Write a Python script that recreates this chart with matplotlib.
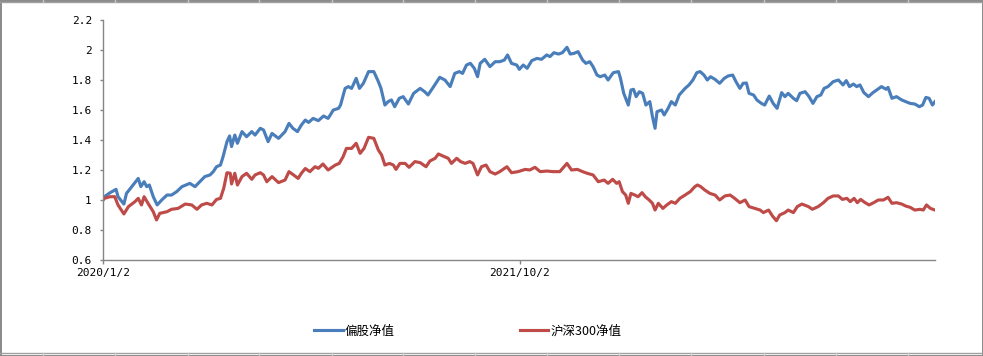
import numpy as np
import pandas as pd
import matplotlib
matplotlib.use('Agg')
import matplotlib.pyplot as plt
import matplotlib.dates as mdates
from matplotlib.lines import Line2D

plt.rcParams['font.family'] = ['Noto Sans CJK SC', 'DejaVu Sans']

# ---------------- data ----------------
START = pd.Timestamp('2020-01-02')
END = pd.Timestamp('2023-06-30')
TICK_DATES = ['2020-01-02', '2021-10-02']

SERIES_NAMES = ['偏股净值', '沪深300净值']

# days since 2020/1/2
fund_days = [0, 2, 11, 20, 23, 32, 36, 46, 54, 58, 63, 67, 71, 77, 83, 90, 98, 105, 113, 121,
             133, 141, 149, 156, 164, 169, 174, 180, 184, 190, 194, 197, 202, 206, 213, 220,
             228, 233, 241, 246, 253, 259, 269, 279, 285, 291, 298, 304, 310, 315, 322, 330,
             338, 345, 353, 361, 364, 371, 376, 381, 388, 393, 399, 407, 415, 422, 426, 432,
             437, 442, 447, 454, 460, 468, 476, 486, 493, 498, 506, 516, 524, 532, 539, 546,
             551, 557, 563, 569, 574, 578, 585, 593, 601, 608, 615, 620, 626, 634, 638, 644,
             650, 657, 665, 672, 680, 685, 691, 698, 704, 711, 716, 722, 728, 735, 740, 746,
             751, 757, 762, 769, 774, 782, 790, 793, 798, 805, 809, 813, 817, 822, 827, 832,
             838, 842, 846, 849, 856, 860, 866, 871, 877, 883, 892, 898, 904, 910, 915, 921,
             926, 931, 938, 945, 952, 958, 965, 970, 976, 981, 986, 990, 997, 1002, 1009, 1014,
             1021, 1027, 1033, 1040, 1045, 1050, 1058, 1063, 1068, 1076, 1082, 1088, 1094, 1100,
             1105, 1111, 1119, 1127, 1134, 1139, 1144, 1150, 1155, 1160, 1166, 1173, 1180, 1187,
             1193, 1200, 1203, 1209, 1216, 1224, 1230, 1237, 1244, 1251, 1256, 1261, 1266, 1271,
             1275]
fund_nav = [1.0, 1.022, 1.049, 1.071, 1.022, 0.973, 1.044, 1.1, 1.144, 1.089, 1.122, 1.089, 1.1,
            1.022, 0.967, 1.0, 1.033, 1.033, 1.056, 1.089, 1.111, 1.089, 1.125, 1.156, 1.167,
            1.189, 1.222, 1.233, 1.289, 1.389, 1.427, 1.356, 1.433, 1.378, 1.456, 1.422, 1.456,
            1.433, 1.478, 1.467, 1.389, 1.444, 1.411, 1.456, 1.511, 1.478, 1.456, 1.5, 1.533,
            1.517, 1.544, 1.529, 1.56, 1.544, 1.6, 1.611, 1.633, 1.744, 1.756, 1.744, 1.811,
            1.744, 1.778, 1.856, 1.856, 1.789, 1.744, 1.633, 1.656, 1.667, 1.622, 1.678, 1.689,
            1.64, 1.711, 1.744, 1.722, 1.7, 1.751, 1.818, 1.8, 1.756, 1.844, 1.856, 1.844, 1.9,
            1.911, 1.878, 1.822, 1.911, 1.938, 1.889, 1.922, 1.922, 1.933, 1.967, 1.911, 1.9,
            1.871, 1.9, 1.878, 1.929, 1.944, 1.938, 1.967, 1.956, 1.982, 1.973, 1.982, 2.018,
            1.973, 1.978, 1.989, 1.933, 1.911, 1.922, 1.889, 1.833, 1.822, 1.833, 1.8, 1.849,
            1.856, 1.811, 1.711, 1.633, 1.733, 1.738, 1.689, 1.722, 1.711, 1.633, 1.656, 1.556,
            1.478, 1.589, 1.6, 1.567, 1.611, 1.656, 1.633, 1.7, 1.744, 1.767, 1.8, 1.849, 1.856,
            1.833, 1.8, 1.822, 1.804, 1.778, 1.811, 1.827, 1.833, 1.789, 1.744, 1.778, 1.78,
            1.711, 1.7, 1.667, 1.644, 1.633, 1.693, 1.644, 1.611, 1.716, 1.689, 1.711, 1.678,
            1.662, 1.711, 1.722, 1.689, 1.644, 1.689, 1.7, 1.744, 1.756, 1.789, 1.8, 1.767,
            1.796, 1.756, 1.773, 1.756, 1.767, 1.716, 1.689, 1.716, 1.738, 1.756, 1.738, 1.751,
            1.678, 1.689, 1.667, 1.656, 1.644, 1.64, 1.622, 1.633, 1.684, 1.678, 1.633, 1.656]

hs300_days = [0, 2, 11, 18, 23, 32, 39, 49, 54, 59, 63, 69, 77, 82, 87, 98, 105, 115, 126, 136,
              144, 151, 159, 167, 174, 180, 185, 190, 195, 197, 202, 206, 213, 220, 228, 233,
              241, 246, 251, 259, 269, 279, 285, 292, 299, 304, 310, 317, 325, 330, 337, 345,
              356, 362, 368, 373, 381, 388, 394, 400, 407, 415, 422, 427, 432, 439, 445, 449,
              455, 463, 469, 478, 486, 495, 501, 509, 514, 521, 529, 534, 542, 548, 555, 562,
              567, 574, 580, 587, 593, 601, 608, 619, 626, 636, 647, 654, 662, 670, 680, 690,
              700, 711, 718, 727, 735, 742, 751, 759, 768, 774, 781, 787, 791, 796, 801, 805,
              809, 815, 820, 826, 831, 837, 842, 846, 851, 858, 864, 871, 877, 884, 892, 900,
              907, 911, 916, 922, 930, 938, 945, 953, 961, 968, 976, 984, 990, 999, 1007, 1012,
              1020, 1026, 1032, 1037, 1045, 1050, 1058, 1064, 1071, 1081, 1087, 1096, 1104, 1111,
              1119, 1127, 1133, 1140, 1145, 1151, 1156, 1161, 1168, 1174, 1181, 1188, 1196, 1203,
              1209, 1216, 1224, 1230, 1237, 1244, 1252, 1257, 1262, 1268, 1275]
hs300_nav = [1.0, 1.011, 1.022, 1.022, 0.967, 0.907, 0.956, 0.989, 1.011, 0.967, 1.022, 0.978,
             0.922, 0.867, 0.911, 0.922, 0.938, 0.944, 0.973, 0.967, 0.938, 0.967, 0.978, 0.967,
             1.004, 1.011, 1.078, 1.182, 1.178, 1.107, 1.178, 1.1, 1.156, 1.178, 1.138, 1.167,
             1.182, 1.167, 1.122, 1.156, 1.116, 1.133, 1.189, 1.167, 1.144, 1.178, 1.21, 1.189,
             1.222, 1.211, 1.24, 1.2, 1.233, 1.244, 1.289, 1.344, 1.344, 1.378, 1.311, 1.344,
             1.418, 1.411, 1.333, 1.3, 1.233, 1.244, 1.233, 1.204, 1.244, 1.244, 1.218, 1.256,
             1.249, 1.222, 1.26, 1.278, 1.307, 1.293, 1.278, 1.244, 1.278, 1.256, 1.244, 1.256,
             1.244, 1.167, 1.222, 1.233, 1.189, 1.173, 1.189, 1.222, 1.182, 1.189, 1.204, 1.2,
             1.218, 1.189, 1.193, 1.189, 1.189, 1.244, 1.2, 1.204, 1.189, 1.178, 1.167, 1.122,
             1.133, 1.111, 1.138, 1.111, 1.122, 1.056, 1.033, 0.978, 1.044, 1.033, 1.022, 1.049,
             1.022, 1.0, 0.978, 0.933, 0.978, 0.944, 0.967, 0.989, 0.978, 1.011, 1.033, 1.056,
             1.089, 1.1, 1.089, 1.067, 1.044, 1.033, 1.0, 1.027, 1.033, 1.011, 0.982, 1.0, 0.956,
             0.944, 0.933, 0.916, 0.933, 0.893, 0.862, 0.9, 0.916, 0.933, 0.916, 0.956, 0.973,
             0.956, 0.938, 0.956, 0.982, 1.011, 1.027, 1.027, 1.004, 1.011, 0.989, 1.011, 0.982,
             1.004, 0.982, 0.967, 0.982, 1.0, 1.0, 1.018, 0.978, 0.982, 0.973, 0.96, 0.951,
             0.933, 0.938, 0.933, 0.967, 0.944, 0.933]

Y_TICKS = [0.6, 0.8, 1.0, 1.2, 1.4, 1.6, 1.8, 2.0, 2.2]

# ---------------- chart ----------------
COLORS = ['#4A7EBB', '#BE4B48']
AXIS_GRAY = '#868686'
TICK_FONT = 'DejaVu Sans Mono'

fig = plt.figure(figsize=(9.83, 3.56), dpi=100)
ax = fig.add_axes([103 / 983, 1 - 260 / 356, (935 - 103) / 983, 240 / 356])

fund_dates = START + pd.to_timedelta(fund_days, unit='D')
hs300_dates = START + pd.to_timedelta(hs300_days, unit='D')

ax.plot(fund_dates, fund_nav, color=COLORS[0], linewidth=2.25, solid_joinstyle='round')
ax.plot(hs300_dates, hs300_nav, color=COLORS[1], linewidth=2.25, solid_joinstyle='round')

ax.set_xlim(START, END)
ax.set_ylim(0.6, 2.2)
ax.set_yticks(Y_TICKS)
ax.set_yticklabels([f'{v:g}' for v in Y_TICKS], family=TICK_FONT, fontsize=8)

tick_ts = [pd.Timestamp(d) for d in TICK_DATES]
ax.set_xticks(mdates.date2num(tick_ts))
ax.set_xticklabels([f'{t.year}/{t.month}/{t.day}' for t in tick_ts],
                   family=TICK_FONT, fontsize=8)

for s in ('top', 'right'):
    ax.spines[s].set_visible(False)
for s in ('left', 'bottom'):
    ax.spines[s].set_color(AXIS_GRAY)
    ax.spines[s].set_linewidth(1.0)
ax.tick_params(axis='both', colors=AXIS_GRAY, labelcolor='#000000',
               width=1.0, direction='out')
ax.tick_params(axis='y', length=2.5, pad=5.5)
ax.tick_params(axis='x', length=3, pad=3)

handles = [Line2D([], [], color=c, linewidth=2.25) for c in COLORS]
fig.legend(handles, SERIES_NAMES, loc='center', bbox_to_anchor=(468 / 983, 1 - 331 / 356),
           ncol=2, frameon=False, fontsize=9, handlelength=2.25, handletextpad=0.2,
           columnspacing=10.0)

# spreadsheet frame around the chart (screenshot border)
fig.patch.set_edgecolor('#8C8C8C')
fig.patch.set_linewidth(1.0)
for yy in (1 - 2 / 356, 3 / 356):
    fig.add_artist(Line2D([0, 1], [yy, yy], transform=fig.transFigure,
                          color='#A0A0A0', linewidth=1.0))
for cx in [43, 115, 188, 259, 332, 403, 475, 547, 619, 691, 764, 836, 908]:
    fig.add_artist(Line2D([cx / 983, cx / 983], [1 - 2 / 356, 1.0],
                          transform=fig.transFigure, color='#C8C8C8', linewidth=1.0))
    fig.add_artist(Line2D([cx / 983, cx / 983], [0.0, 3 / 356],
                          transform=fig.transFigure, color='#C8C8C8', linewidth=1.0))

fig.savefig('out.png', dpi=100, facecolor='white', edgecolor=fig.get_edgecolor())
